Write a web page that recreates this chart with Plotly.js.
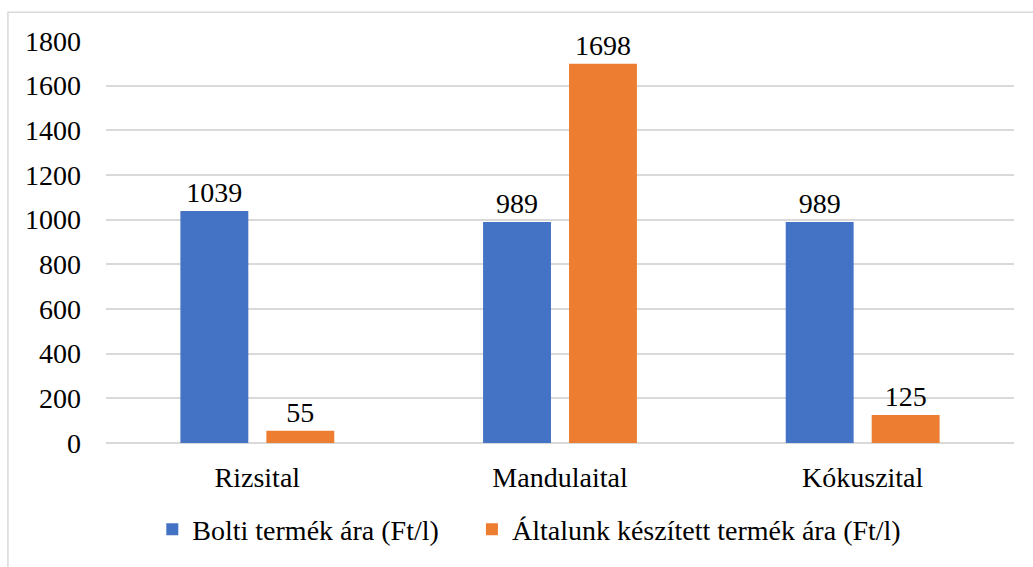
<!DOCTYPE html>
<html>
<head>
<meta charset="utf-8">
<script src="https://cdn.plot.ly/plotly-3.0.1.min.js"></script>
<style>
  html, body { margin: 0; padding: 0; background: #fff; }
  #chart { width: 1033px; height: 567px; }
</style>
</head>
<body>
<div id="chart"></div>
<script>
var categories = ['Rizsital', 'Mandulaital', 'Kókuszital'];
var boltiAr = [1039, 989, 989];
var sajatAr = [55, 1698, 125];
var seriesNames = ['Bolti termék ára (Ft/l)', 'Általunk készített termék ára (Ft/l)'];
var yTicks = [0, 200, 400, 600, 800, 1000, 1200, 1400, 1600, 1800];

var font = {family: 'Liberation Serif, Times New Roman, serif', size: 28, color: '#000'};

var trace1 = {
  x: categories,
  y: boltiAr,
  name: seriesNames[0],
  type: 'bar',
  marker: {color: '#4472C4'},
  text: boltiAr.map(String),
  textposition: 'outside',
  textfont: font,
  cliponaxis: false,
  legend: 'legend'
};
var trace2 = {
  x: categories,
  y: sajatAr,
  name: seriesNames[1],
  type: 'bar',
  marker: {color: '#ED7D31'},
  text: sajatAr.map(String),
  textposition: 'outside',
  textfont: font,
  cliponaxis: false,
  legend: 'legend2'
};

// one legend per series so the gap between the two entries can match
var legendBase = {
  orientation: 'h',
  xanchor: 'left',
  y: -0.215,
  yanchor: 'middle',
  font: font,
  itemwidth: 30
};

var data = [trace1, trace2];
var layout = {
  width: 1033,
  height: 567,
  margin: {l: 106, r: 19, t: 41, b: 121},
  paper_bgcolor: '#fff',
  plot_bgcolor: '#fff',
  font: font,
  barmode: 'group',
  bargap: 0.432,
  bargroupgap: 0.21,
  showlegend: true,
  legend: Object.assign({}, legendBase, {x: 0.051}),
  legend2: Object.assign({}, legendBase, {x: 0.403}),
  xaxis: {
    showgrid: false,
    showline: false,
    zeroline: false,
    ticks: '',
    tickfont: font,
    ticklabelstandoff: 15
  },
  yaxis: {
    range: [0, 1800],
    tickvals: yTicks,
    ticktext: yTicks.map(String),
    showgrid: true,
    gridcolor: '#d9d9d9',
    gridwidth: 1.5,
    zeroline: true,
    zerolinecolor: '#d9d9d9',
    zerolinewidth: 1.5,
    showline: false,
    ticks: '',
    tickfont: font,
    ticklabelstandoff: 24
  },
  shapes: [{
    type: 'rect',
    xref: 'paper',
    yref: 'paper',
    x0: -0.108,
    x1: 1.2,
    y0: -0.5,
    y1: 1.0716,
    line: {color: '#d9d9d9', width: 1.5},
    fillcolor: 'rgba(0,0,0,0)',
    layer: 'below'
  }]
};

Plotly.newPlot('chart', data, layout, {displayModeBar: false});
</script>
</body>
</html>
